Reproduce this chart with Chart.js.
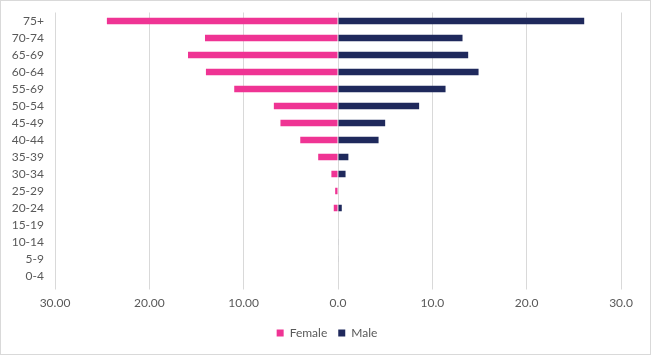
<!DOCTYPE html>
<html><head><meta charset="utf-8">
<script src="https://cdn.jsdelivr.net/npm/chart.js@4/dist/chart.umd.min.js"></script>
<style>
html,body{margin:0;padding:0;background:#fff;}
#wrap{position:absolute;left:0;top:0;width:651px;height:355px;box-sizing:border-box;border:1px solid #d9d9d9;}
canvas{display:block;}
</style></head>
<body>
<div id="wrap"><canvas id="c" width="649" height="353"></canvas></div>
<script>
const categories = ['75+','70-74','65-69','60-64','55-69','50-54','45-49','40-44','35-39','30-34','25-29','20-24','15-19','10-14','5-9','0-4'];
const femaleValues = [24.5, 14.1, 15.9, 14.0, 11.0, 6.8, 6.1, 4.0, 2.1, 0.7, 0.3, 0.45, 0, 0, 0, 0];
const maleValues   = [26.1, 13.2, 13.8, 14.9, 11.4, 8.6, 5.0, 4.3, 1.1, 0.8, 0, 0.4, 0, 0.05, 0.05, 0];
const tickValues = [-30, -20, -10, 0, 10, 20, 30];
const tickLabels = ['30.00', '20.00', '10.00', '0.0', '10.0', '20.0', '30.0'];

const textColor = '#595959';
const fontFamily = 'Lato, "Open Sans", sans-serif';

const legendShift = {
  id: 'legendShift',
  afterLayout(chart) {
    const l = chart.legend;
    if (l) { l.left += 16; l.right += 16; }
  }
};

new Chart(document.getElementById('c'), {
  type: 'bar',
  data: {
    labels: categories,
    datasets: [
      { label: 'Female', data: femaleValues.map(v => -v), backgroundColor: '#EF3494', categoryPercentage: 1, barPercentage: 0.37 },
      { label: 'Male', data: maleValues, backgroundColor: '#1F295C', categoryPercentage: 1, barPercentage: 0.37 }
    ]
  },
  plugins: [legendShift],
  options: {
    indexAxis: 'y',
    responsive: false,
    animation: false,
    layout: { padding: { left: 0, right: 29, top: 11.5, bottom: 5 } },
    plugins: {
      tooltip: { enabled: false },
      legend: {
        position: 'bottom',
        labels: { boxWidth: 7, boxHeight: 7, color: textColor, font: { family: fontFamily, size: 12 }, padding: 11 }
      }
    },
    scales: {
      x: {
        stacked: true,
        min: -30, max: 30,
        afterBuildTicks: s => { s.ticks = tickValues.map(v => ({ value: v })); },
        afterFit: s => { s.height = 31.5; },
        ticks: {
          color: textColor, font: { family: fontFamily, size: 12 }, padding: 6, maxRotation: 0,
          callback: (v) => { const i = tickValues.indexOf(v); return i >= 0 ? tickLabels[i] : ''; }
        },
        grid: { color: '#d9d9d9', drawTicks: true, tickLength: 5 },
        border: { display: false }
      },
      y: {
        stacked: true,
        afterFit: s => { s.width = 54; s.paddingTop = 0; s.paddingBottom = 0; },
        ticks: { color: textColor, font: { family: fontFamily, size: 12 }, padding: 11, autoSkip: false },
        grid: { display: false, drawTicks: false },
        border: { display: false }
      }
    }
  }
});
</script>
</body></html>
